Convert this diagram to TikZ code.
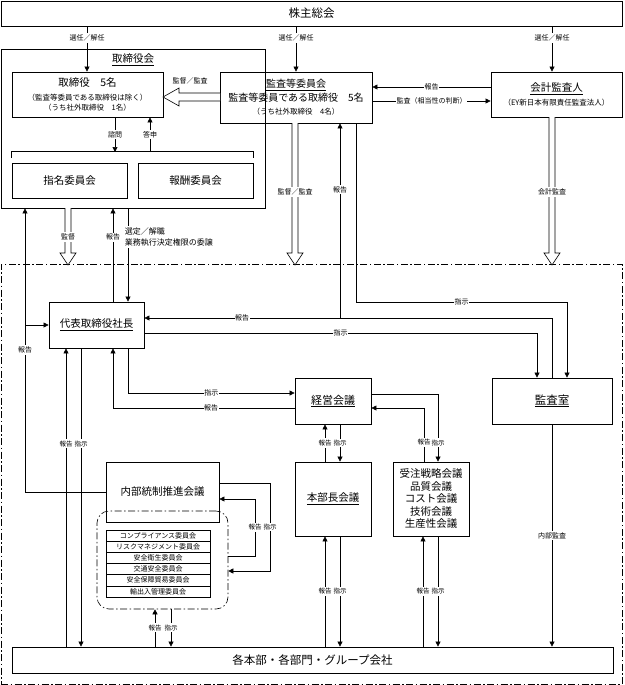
\documentclass[tikz,border=0pt]{standalone}
\usepackage{fontspec}
\setmainfont{Noto Sans CJK JP}
\usetikzlibrary{arrows.meta}

% hollow (white) arrows: x, y-start, y-tip / y, x-start, x-tip
\newcommand\hollowdown[3]{\draw[fill=white] (#1-3,#2) -- (#1-3,#3-12) -- (#1-8,#3-12) -- (#1,#3) -- (#1+8,#3-12) -- (#1+3,#3-12) -- (#1+3,#2);}
\newcommand\hollowleft[3]{\draw[fill=white] (#2,#1-4) -- (#3+16,#1-4) -- (#3+16,#1-9) -- (#3,#1) -- (#3+16,#1+9) -- (#3+16,#1+4) -- (#2,#1+4);}

\begin{document}
\begin{tikzpicture}[x=1pt,y=-1pt,line width=0.6pt,
  box/.style={draw, line width=0.8pt, inner sep=1pt, align=center, font=\fontsize{10.5}{13}\selectfont},
  cell/.style={draw, inner sep=0pt, minimum width=104pt, minimum height=11.17pt, font=\fontsize{7}{8}\selectfont},
  lab/.style={fill=white, inner xsep=0.5pt, inner ysep=1.5pt, font=\fontsize{7}{9}\selectfont},
  pair/.style={lab, inner xsep=0pt, font=\fontsize{6.5}{9}\selectfont},
  arr/.style={-{Triangle[length=5pt,width=5pt]}},
  dashdot/.style={dash pattern=on 7pt off 2.5pt on 1.5pt off 2.5pt}]
\useasboundingbox (0,0) rectangle (624,685);

\node[draw, dashdot, line width=0.7pt, minimum width=621pt, minimum height=420pt] (field) at (311.5,474) {};

\node[box, minimum width=621pt, minimum height=25pt, font=\fontsize{11.5}{13}\selectfont] (soukai) at (311.5,13.5) {株主総会};

% board of directors
\node[draw, line width=0.8pt, minimum width=264pt, minimum height=159pt] (board) at (133,128.5) {};
\node[font=\fontsize{10.5}{12}\selectfont] (boardname) at (133,60) {\underline{取締役会}};
\node[box, minimum width=151pt, minimum height=45pt, font=\fontsize{7.5}{10}\selectfont] (tori) at (87.5,94.5)
  {{\fontsize{10.5}{12}\selectfont 取締役　5名}\\[4pt]（監査等委員である取締役は除く）\\（うち社外取締役　1名）};
\node[box, minimum width=115pt, minimum height=35pt] (shimei) at (69.5,180.5) {指名委員会};
\node[box, minimum width=115pt, minimum height=35pt] (houshu) at (195.5,180.5) {報酬委員会};

\node[box, minimum width=152pt, minimum height=51pt, font=\fontsize{10}{13.5}\selectfont] (kansa) at (296,97.5)
  {\underline{監査等委員会}\\監査等委員である取締役　5名\\{\fontsize{7.5}{9}\selectfont（うち社外取締役　4名）}};
\node[box, minimum width=131pt, minimum height=45pt] (kaikei) at (556.5,94.5)
  {\underline{会計監査人}\\[1pt]{\fontsize{7.5}{9}\selectfont（EY新日本有限責任監査法人）}};

% execution side
\node[box, minimum width=95pt, minimum height=46pt] (shacho) at (96.5,325) {\underline{代表取締役社長}};
\node[box, minimum width=76pt, minimum height=46pt, font=\fontsize{11}{13}\selectfont] (keiei) at (333,401) {\underline{経営会議}};
\node[box, minimum width=120pt, minimum height=46pt, font=\fontsize{11.5}{13}\selectfont] (kansashitsu) at (552,401) {\underline{監査室}};
\node[box, minimum width=113pt, minimum height=60pt] (naibu) at (162.5,492) {内部統制推進会議};
\node[box, minimum width=76pt, minimum height=74pt] (honbucho) at (333,499) {\underline{本部長会議}};
\node[box, minimum width=76pt, minimum height=74pt, font=\fontsize{10.5}{12.5}\selectfont] (juchu) at (431,499)
  {受注戦略会議\\品質会議\\コスト会議\\技術会議\\生産性会議};
\node[box, minimum width=601pt, minimum height=26pt, font=\fontsize{11.5}{13}\selectfont] (kakubu) at (312.5,660) {各本部・各部門・グループ会社};

\foreach \name [count=\i] in {コンプライアンス委員会, リスクマネジメント委員会, 安全衛生委員会, 交通安全委員会, 安全保障貿易委員会, 輸出入管理委員会}
  \node[cell] (iin\i) at (158,524.4+11.17*\i) {\name};
\node[draw, dashdot, rounded corners=12pt, minimum width=131pt, minimum height=98pt] (grp) at (162.5,560) {};

% shareholders
\draw[arr] (87,0 |- soukai.south) -- node[lab,pos=.26]{選任／解任} (87,0 |- tori.north);
\draw[arr] (soukai.south -| kansa.north) -- node[lab,pos=.26]{選任／解任} (kansa.north);
\draw[arr] (552,0 |- soukai.south) -- node[lab,pos=.26]{選任／解任} (552,0 |- kaikei.north);

% audit committee and auditor
\draw[arr] (kaikei.west |- 0,87) -- node[lab]{報告} (kansa.east |- 0,87);
\draw[arr] (kansa.east |- 0,101) -- node[lab]{監査（相当性の判断）} (kaikei.west |- 0,101);
\hollowleft{97}{220}{163}
\node[lab] (kantoku) at (190,81) {監督／監査};

% inside the board
\draw[arr] (115,0 |- tori.south) -- node[lab]{諮問} (115,152);
\draw[arr] (150,152) -- node[lab]{答申} (150,0 |- tori.south);
\draw ([yshift=5pt]shimei.north west) -- ++(0,-6) -- ([yshift=11pt]houshu.north east) -- ++(0,6);

% board to president
\hollowdown{68}{208}{265}
\node[lab] (kantoku2) at (68,237) {監督};
\draw[arr] (113,0 |- shacho.north) -- node[lab,pos=.69]{報告} (113,0 |- board.south);
\draw[arr] (128,0 |- board.south) -- (128,0 |- shacho.north);
\node[lab, anchor=west, align=left, font=\fontsize{8}{11.5}\selectfont] (sentei) at (124,237) {選定／解職\\業務執行決定権限の委譲};
\draw[arr] (naibu.west) -- (25,0 |- naibu.west) -- node[lab]{報告} (25,0 |- board.south);
\draw[arr] (25,0 |- shacho.west) -- (shacho.west);

\hollowdown{295}{123}{265}
\node[lab] (kantoku3) at (295,192) {監督／監査};
\hollowdown{552}{117}{265}
\node[lab] (kaikeikansa) at (552,192) {会計監査};

% audit office
\coordinate (jct) at (340,318);
\draw[arr] (kansashitsu.north) |- node[lab,pos=.88]{報告} (shacho.east |- jct);
\draw[arr] (jct) -- node[lab,pos=.66]{報告} (jct |- kansa.south);
\draw[arr] (356,0 |- kansa.south) |- node[lab,pos=.75]{指示} (567,302) -- (567,0 |- kansashitsu.north);
\draw[arr] (shacho.east |- 0,333) -| node[lab,pos=.25]{指示} (537,0 |- kansashitsu.north);
\draw[arr] (kansashitsu.south) -- node[lab]{内部監査} (kakubu.north -| kansashitsu.south);

% president and management meeting
\draw[arr] (66,0 |- kakubu.north) -- node[pair,pos=.68]{報告} (66,0 |- shacho.south);
\draw[arr] (81,0 |- shacho.south) -- node[pair,pos=.32]{指示} (81,0 |- kakubu.north);
\draw[arr] (128,0 |- shacho.south) |- node[lab,pos=.75]{指示} (keiei.west |- 0,393);
\draw[arr] (keiei.west |- 0,408) -| node[lab,pos=.23]{報告} (113,0 |- shacho.south);

\draw[arr] (325,0 |- honbucho.north) -- node[pair]{報告} (325,0 |- keiei.south);
\draw[arr] (340,0 |- keiei.south) -- node[pair]{指示} (340,0 |- honbucho.north);
\draw[arr] (keiei.east |- 0,394) -| node[pair,pos=.86]{指示} (438,0 |- juchu.north);
\draw[arr] (424,0 |- juchu.north) |- node[pair,pos=.18]{報告} (keiei.east |- 0,408);

\foreach \m in {honbucho, juchu} {
  \draw[arr] ([xshift=-8pt]\m.south |- kakubu.north) -- node[pair]{報告} ([xshift=-8pt]\m.south);
  \draw[arr] ([xshift=7pt]\m.south) -- node[pair]{指示} ([xshift=7pt]\m.south |- kakubu.north);
}

% internal control
\draw[arr] (naibu.east |- 0,483) -| node[pair,pos=.75]{指示} (270,571) -- (grp.east |- 0,571);
\draw[arr] (grp.east |- 0,556) -| node[pair,pos=.75]{報告} (255,499) -- (naibu.east |- 0,499);
\draw[arr] (155,0 |- kakubu.north) -- node[pair]{報告} (155,0 |- grp.south);
\draw[arr] (171,0 |- grp.south) -- node[pair]{指示} (171,0 |- kakubu.north);
\end{tikzpicture}
\end{document}
